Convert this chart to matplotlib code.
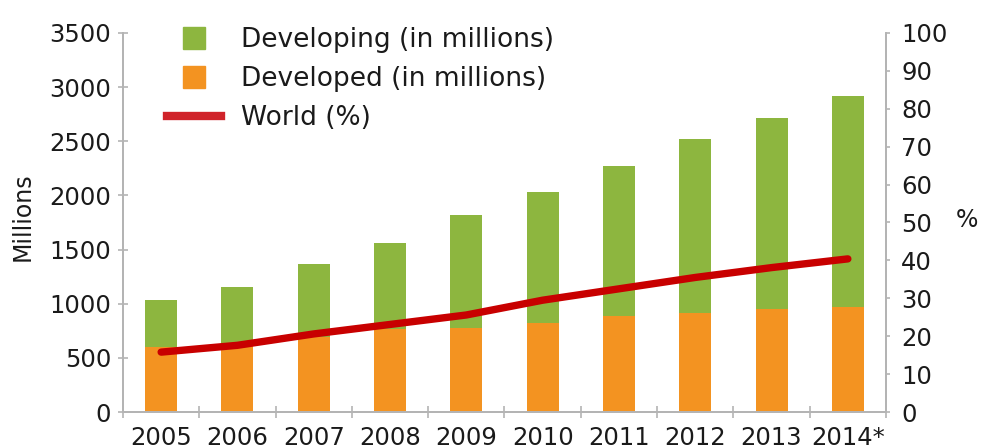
import matplotlib
matplotlib.use("Agg")
import matplotlib.pyplot as plt
from matplotlib.lines import Line2D
import numpy as np

# --------------------
# Data
# --------------------
years = ["2005", "2006", "2007", "2008", "2009", "2010", "2011", "2012", "2013", "2014*"]
total = [1030, 1150, 1370, 1560, 1815, 2030, 2270, 2520, 2715, 2920]
developed = [600, 620, 690, 765, 775, 820, 885, 910, 950, 970]
developing = [t - d for t, d in zip(total, developed)]
world_pct = [15.8, 17.6, 20.6, 23.1, 25.6, 29.5, 32.5, 35.5, 38.1, 40.4]

GREEN = "#8DB63F"
ORANGE = "#F39321"
RED = "#C80000"
TXT = "#1A1A1A"
SPINE = "#B4B4B4"

plt.rcParams["font.family"] = ["DejaVu Sans"]

fig = plt.figure(figsize=(9.83, 4.48), dpi=100)
ax = fig.add_axes([123 / 983, 36 / 448, 763 / 983, 379 / 448])
ax2 = ax.twinx()

x = np.arange(len(years))

# --------------------
# Stacked bars
# --------------------
ax.bar(x, developed, width=0.42, color=ORANGE, zorder=2)
ax.bar(x, developing, width=0.42, bottom=developed, color=GREEN, zorder=2)

# --------------------
# World line on right axis
# --------------------
ax2.plot(x, world_pct, color=RED, lw=5.3, solid_capstyle="round", zorder=3)

ax.set_xlim(-0.5, len(years) - 0.5)
ax.set_ylim(0, 3500)
ax2.set_ylim(0, 100)

ax.set_yticks(range(0, 3501, 500))
ax2.set_yticks(range(0, 101, 10))

ax.set_xticks(x)
ax.set_xticklabels(years)
ax.set_xticks(np.arange(-0.5, len(years)), minor=True)

# --------------------
# Styling
# --------------------
for a in (ax, ax2):
    a.spines["top"].set_visible(False)
    for s in ("left", "right", "bottom"):
        a.spines[s].set_color(SPINE)
        a.spines[s].set_linewidth(1.3)

ax.tick_params(axis="y", direction="inout", length=7, width=1.2, color=SPINE,
               labelsize=17.5, labelcolor=TXT, pad=5)
ax.tick_params(axis="x", which="major", length=0, labelsize=17.5,
               labelcolor=TXT, pad=10)
ax.tick_params(axis="x", which="minor", direction="inout", length=8,
               width=1.2, color=SPINE)
ax2.tick_params(axis="y", direction="out", length=3, width=1.2, color=SPINE,
                labelsize=17.5, labelcolor=TXT, pad=8)

fig.text(23 / 983, 1 - 217 / 448, "Millions", rotation=90, ha="center",
         va="center", fontsize=17, color=TXT)
fig.text(967 / 983, 1 - 220 / 448, "%", ha="center", va="center",
         fontsize=17, color=TXT)

# --------------------
# Legend
# --------------------
handles = [
    Line2D([], [], marker="s", ls="none", color=GREEN, markersize=16.5),
    Line2D([], [], marker="s", ls="none", color=ORANGE, markersize=16.5),
    Line2D([], [], color="#D0232A", lw=6),
]
labels = ["Developing (in millions)", "Developed (in millions)", "World (%)"]
leg = ax.legend(handles, labels, loc="upper left",
                bbox_to_anchor=(167 / 983, 1 - 27 / 448),
                bbox_transform=fig.transFigure, frameon=False,
                fontsize=19, handlelength=2.05, handletextpad=0.76,
                labelspacing=0.5, borderpad=0, borderaxespad=0)
for t in leg.get_texts():
    t.set_color(TXT)
leg.set_zorder(5)

fig.savefig("out.png", dpi=100)
